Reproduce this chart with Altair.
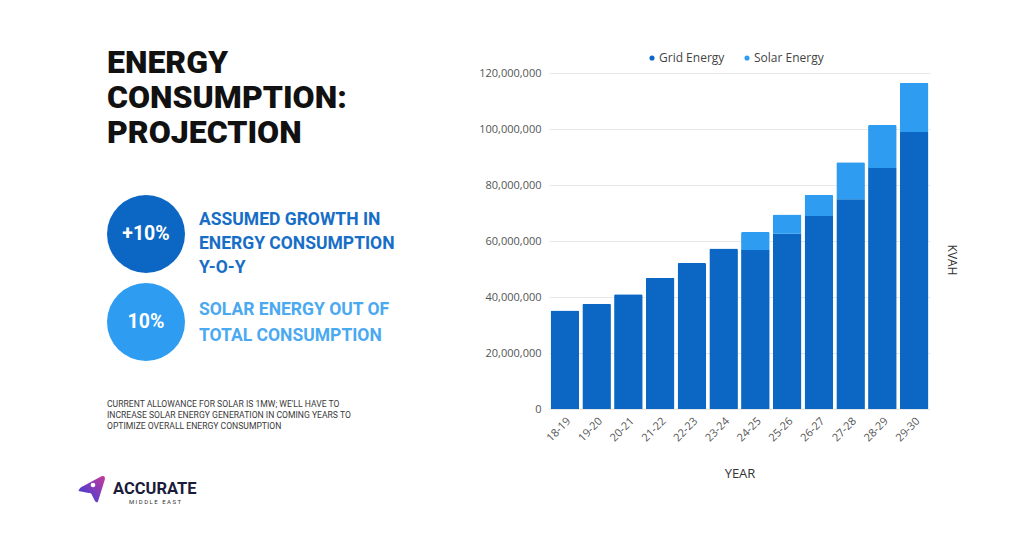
import altair as alt
import pandas as pd

# ---------------- data ----------------
years = ["18-19", "19-20", "20-21", "21-22", "22-23", "23-24",
         "24-25", "25-26", "26-27", "27-28", "28-29", "29-30"]
grid_kvah = [35_200_000, 37_600_000, 41_000_000, 46_900_000, 52_100_000, 57_300_000,
             56_800_000, 62_600_000, 68_900_000, 74_900_000, 86_100_000, 98_900_000]
solar_kvah = [0, 0, 0, 0, 0, 0,
              6_400_000, 6_900_000, 7_600_000, 13_200_000, 15_300_000, 17_600_000]
series_names = ["Grid Energy", "Solar Energy"]
series_colors = ["#0b67c3", "#2e9cf0"]
y_ticks = [0, 20_000_000, 40_000_000, 60_000_000, 80_000_000, 100_000_000, 120_000_000]

title_lines = ["ENERGY", "CONSUMPTION:", "PROJECTION"]
growth_lines = ["ASSUMED GROWTH IN", "ENERGY CONSUMPTION", "Y-O-Y"]
solar_lines = ["SOLAR ENERGY OUT OF", "TOTAL CONSUMPTION"]
badge_texts = ["+10%", "10%"]
note_lines = ["CURRENT ALLOWANCE FOR SOLAR IS 1MW; WE'LL HAVE TO",
              "INCREASE SOLAR ENERGY GENERATION IN COMING YEARS TO",
              "OPTIMIZE OVERALL ENERGY CONSUMPTION"]
logo_name = "ACCURATE"
logo_sub = "\u00a0".join("MIDDLE") + "\u00a0\u00a0\u00a0" + "\u00a0".join("EAST")

rows = []
for i, yr in enumerate(years):
    rows.append({"year": yr, "series": series_names[0], "kvah": grid_kvah[i], "order": 0})
    rows.append({"year": yr, "series": series_names[1], "kvah": solar_kvah[i], "order": 1})
df = pd.DataFrame(rows)

# ---------------- layout ----------------
OX, OY = 549, 73          # plot origin on the page
W, H = 381, 336           # plot area size
one = alt.Data(values=[{"k": 0}])

DARK = "#0b67c3"
LIGHT = "#2e9cf0"


def label(txt, px, py, size, color, weight="normal", font="Roboto",
          align="left", baseline="alphabetic", angle=0):
    return alt.Chart(one).mark_text(
        text=txt, fontSize=size, color=color, fontWeight=weight, font=font,
        align=align, baseline=baseline, angle=angle
    ).encode(x=alt.value(px - OX), y=alt.value(py - OY))


def dot(px, py, size, color, shape="circle"):
    return alt.Chart(one).mark_point(
        filled=True, shape=shape, size=size, color=color, opacity=1, strokeWidth=0
    ).encode(x=alt.value(px - OX), y=alt.value(py - OY))


bars = alt.Chart(df).mark_bar(cornerRadiusTopLeft=1.5, cornerRadiusTopRight=1.5).encode(
    x=alt.X("year:N", sort=years,
            scale=alt.Scale(paddingInner=0.1, paddingOuter=0.05),
            axis=alt.Axis(title="YEAR", labelAngle=-45, labelFontSize=11,
                          labelColor="#555", labelFont="Open Sans", ticks=False,
                          domain=False, labelPadding=6, titleFontSize=13,
                          titleColor="#333", titleFont="Open Sans",
                          titleFontWeight="normal", titlePadding=24)),
    y=alt.Y("kvah:Q", stack="zero",
            scale=alt.Scale(domain=[0, 120_000_000], nice=False),
            axis=alt.Axis(title=None, values=y_ticks,
                          labelExpr="format(datum.value, ',')", grid=True,
                          gridColor="#e8e8e8", ticks=False, domain=False,
                          labelPadding=8, labelFontSize=11, labelColor="#555",
                          labelFont="Open Sans")),
    color=alt.Color("series:N",
                    scale=alt.Scale(domain=series_names, range=series_colors),
                    legend=alt.Legend(title=None, orient="none", legendX=97, legendY=-21,
                                      direction="horizontal", symbolType="circle",
                                      symbolSize=26, labelFontSize=12, labelColor="#444",
                                      labelFont="Open Sans", columnPadding=16,
                                      labelOffset=1)),
    order=alt.Order("order:Q"),
)

layers = [bars]

# right axis title
layers.append(label("KVAH", 952, 260, 12, "#333", font="Open Sans",
                    align="center", baseline="middle", angle=90))

# big title
for i, t in enumerate(title_lines):
    layers.append(label(t, 107, 73 + i * 35, 32, "#111", weight=900, font="Roboto"))

# badges
layers.append(dot(146, 234, 6084, DARK))
layers.append(dot(146, 322, 6084, LIGHT))
layers.append(label(badge_texts[0], 146, 234, 19.5, "white", weight="bold",
                    align="center", baseline="middle"))
layers.append(label(badge_texts[1], 146, 322, 19.5, "white", weight="bold",
                    align="center", baseline="middle"))

for i, t in enumerate(growth_lines):
    layers.append(label(t, 199, 225 + i * 24, 17.5, "#176ec6", weight="bold"))
for i, t in enumerate(solar_lines):
    layers.append(label(t, 199, 315 + i * 26, 17.5, "#4aa9f0", weight="bold"))

# footnote
for i, t in enumerate(note_lines):
    layers.append(label(t, 107, 407 + i * 11, 8.6, "#3a3a3a", font="Roboto"))

# logo
icon_path = ("M -1 0.15 Q -0.95 -0.1 -0.6 -0.25 L 0.7 -0.95 Q 1 -1.05 0.95 -0.7 "
             "L 0.45 0.9 Q 0.35 1.1 0.2 0.85 L -0.05 0.35 Q -0.1 0.28 -0.25 0.3 Z")
grad = alt.LinearGradient(gradient="linear",
                          stops=[alt.GradientStop(offset=0, color="#2a3fe0"),
                                 alt.GradientStop(offset=1, color="#c83a98")],
                          x1=0, x2=1, y1=1, y2=0)
layers.append(alt.Chart(one).mark_point(filled=True, shape=icon_path, size=729,
                                        color=grad, opacity=1, strokeWidth=0)
              .encode(x=alt.value(92 - OX), y=alt.value(489 - OY)))
layers.append(dot(93, 485, 22, "white"))
layers.append(label(logo_name, 113, 494, 16.5, "#1b1b3a", weight="bold"))
layers.append(label(logo_sub, 155, 504, 6, "#333", align="center"))

chart = alt.layer(*layers).properties(
    width=W, height=H,
    padding={"left": OX, "top": OY, "right": 1024 - OX - W, "bottom": 533 - OY - H},
    autosize=alt.AutoSizeParams(type="none"),
    background="white",
).configure_view(strokeWidth=0)

chart.save("out.html", embed_options={"renderer": "svg", "actions": False})
